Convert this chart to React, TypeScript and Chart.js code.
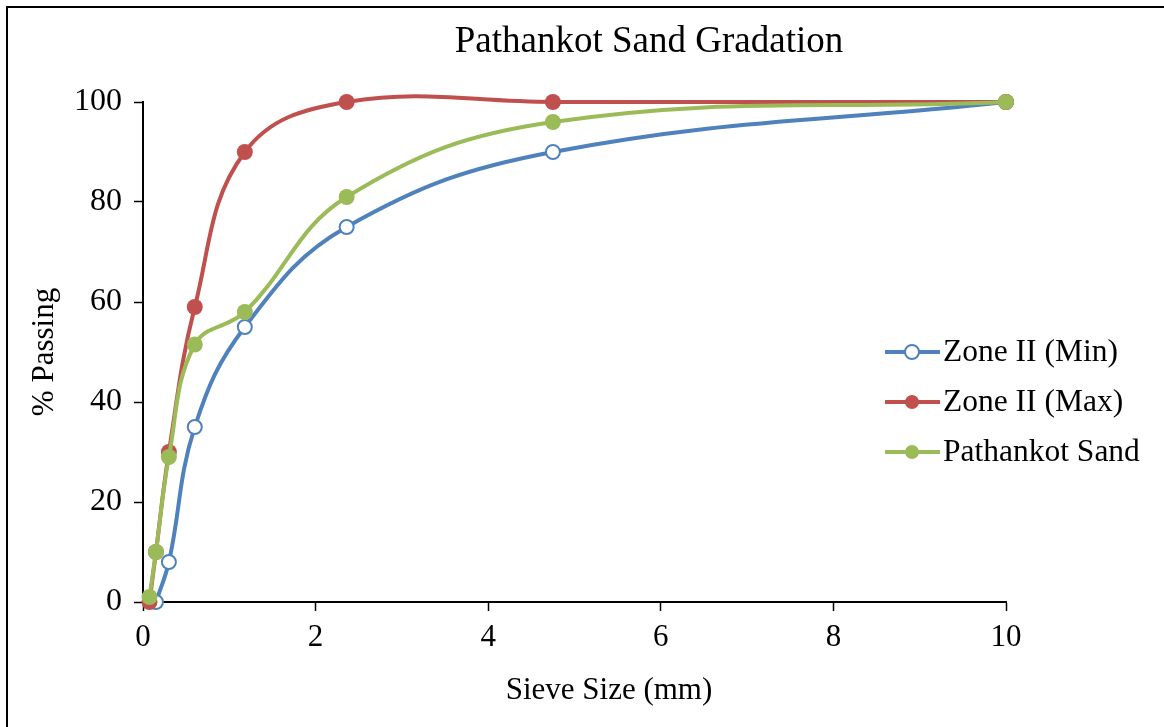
import React, { useEffect, useRef } from 'react';
import { Chart, registerables } from 'chart.js';

Chart.register(...registerables);

// Sieve openings (mm) and cumulative % passing for each grading curve
const sieveSizes = [0.075, 0.15, 0.3, 0.6, 1.18, 2.36, 4.75, 10];
const zoneIIMin: (number | null)[] = [null, 0, 8, 35, 55, 75, 90, 100];
const zoneIIMax: (number | null)[] = [0, 10, 30, 59, 90, 100, 100, 100];
const pathankotSand: (number | null)[] = [1, 10, 29, 51.5, 58, 81, 96, 100];

const seriesLabels = ['Zone II (Min)', 'Zone II (Max)', 'Pathankot Sand'];
const seriesColors = ['#4F81BD', '#C0504D', '#9BBB59'];

const chartTitle = 'Pathankot Sand Gradation';
const xAxisTitle = 'Sieve Size (mm)';
const yAxisTitle = '% Passing';

const W = 1164;
const H = 727;
const SERIF = "'Liberation Serif', 'Times New Roman', serif";

const toPoints = (ys: (number | null)[]) =>
  sieveSizes
    .map((x, i) => (ys[i] === null ? null : { x, y: ys[i] as number }))
    .filter((p) => p !== null) as { x: number; y: number }[];

// Outer frame, chart title, x-axis caption and in-plot legend
const decorations = {
  id: 'decorations',
  beforeDraw(chart: any) {
    const ctx = chart.ctx;
    ctx.save();
    ctx.fillStyle = '#fff';
    ctx.fillRect(0, 0, W, H);
    ctx.strokeStyle = '#000';
    ctx.lineWidth = 2;
    ctx.beginPath();
    ctx.moveTo(7, H);
    ctx.lineTo(7, 7);
    ctx.lineTo(W, 7);
    ctx.stroke();
    ctx.restore();
  },
  afterDraw(chart: any) {
    const ctx = chart.ctx;
    ctx.save();
    ctx.fillStyle = '#000';
    ctx.font = `37px ${SERIF}`;
    ctx.textAlign = 'center';
    ctx.textBaseline = 'middle';
    ctx.fillText(chartTitle, 649, 42);

    ctx.font = `31px ${SERIF}`;
    ctx.fillText(xAxisTitle, 609, 691);

    ctx.font = `31.5px ${SERIF}`;
    ctx.textAlign = 'left';
    seriesLabels.forEach((label, i) => {
      const y = 352 + i * 50;
      const color = seriesColors[i];
      ctx.strokeStyle = color;
      ctx.lineWidth = 4;
      ctx.beginPath();
      ctx.moveTo(885, y);
      ctx.lineTo(940, y);
      ctx.stroke();
      ctx.beginPath();
      ctx.arc(912, y, 7, 0, Math.PI * 2);
      if (i === 0) {
        ctx.fillStyle = '#fff';
        ctx.fill();
        ctx.lineWidth = 2;
        ctx.stroke();
      } else {
        ctx.fillStyle = color;
        ctx.fill();
      }
      ctx.fillStyle = '#000';
      ctx.fillText(label, 943, y + 1);
    });
    ctx.restore();
  },
};

export default function App() {
  const canvasRef = useRef<HTMLCanvasElement>(null);

  useEffect(() => {
    if (!canvasRef.current) return;
    const seriesData = [zoneIIMin, zoneIIMax, pathankotSand];
    const chart = new Chart(canvasRef.current, {
      type: 'line',
      data: {
        datasets: seriesData.map((ys, i) => ({
          label: seriesLabels[i],
          data: toPoints(ys),
          borderColor: seriesColors[i],
          backgroundColor: i === 0 ? '#fff' : seriesColors[i],
          pointBackgroundColor: i === 0 ? '#fff' : seriesColors[i],
          pointBorderColor: seriesColors[i],
          pointBorderWidth: i === 0 ? 2 : 0,
          pointRadius: i === 0 ? 7 : 8,
          borderWidth: 4,
          tension: 0.4,
          fill: false,
          clip: false as any,
          order: 3 - i,
        })),
      },
      options: {
        responsive: false,
        animation: false,
        layout: { padding: { left: 22, top: 102, right: 158, bottom: 14 } },
        elements: { line: { capBezierPoints: false } },
        plugins: {
          legend: { display: false },
          title: { display: false },
          tooltip: { enabled: false },
        },
        scales: {
          x: {
            type: 'linear',
            min: 0,
            max: 10,
            afterFit: (s: any) => {
              s.height = 111;
            },
            ticks: {
              stepSize: 2,
              color: '#000',
              font: { family: SERIF, size: 31 },
              padding: 8,
            },
            grid: {
              display: true,
              drawOnChartArea: false,
              drawTicks: true,
              tickLength: 9,
              tickColor: '#000',
              tickWidth: 1.5,
            },
            border: { display: true, color: '#000', width: 2 },
            title: { display: false, text: xAxisTitle },
          },
          y: {
            type: 'linear',
            min: 0,
            max: 100,
            afterFit: (s: any) => {
              s.width = 121;
            },
            ticks: {
              stepSize: 20,
              color: '#000',
              font: { family: SERIF, size: 32 },
              padding: 12,
            },
            grid: {
              display: true,
              drawOnChartArea: false,
              drawTicks: true,
              tickLength: 9,
              tickColor: '#000',
              tickWidth: 1.5,
            },
            border: { display: true, color: '#000', width: 2 },
            title: {
              display: true,
              text: yAxisTitle,
              color: '#000',
              font: { family: SERIF, size: 31 },
              padding: { top: 4, bottom: 0 },
            },
          },
        },
      } as any,
      plugins: [decorations],
    });
    return () => chart.destroy();
  }, []);

  return (
    <div style={{ position: 'fixed', left: 0, top: 0, width: W, height: H, background: '#fff' }}>
      <canvas ref={canvasRef} width={W} height={H} style={{ display: 'block' }} />
    </div>
  );
}
